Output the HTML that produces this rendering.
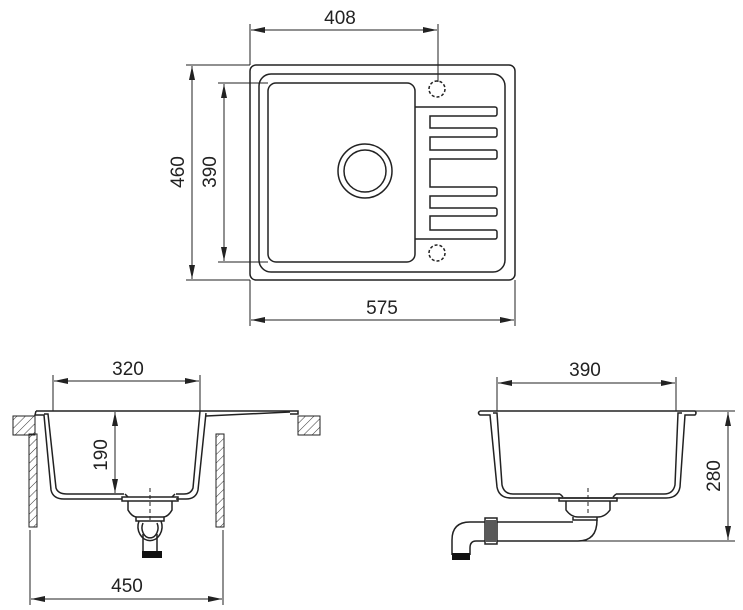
<!DOCTYPE html>
<html><head><meta charset="utf-8"><style>
html,body{margin:0;padding:0;background:#fff;}
svg{display:block;}
</style></head><body>
<svg width="743" height="610" viewBox="0 0 743 610" xmlns="http://www.w3.org/2000/svg" font-family="'Liberation Sans', Arial, sans-serif" font-size="19" fill="#222">
<defs>
<marker id="a" viewBox="0 0 14 6" refX="14" refY="3" markerWidth="14" markerHeight="6" orient="auto-start-reverse" markerUnits="userSpaceOnUse"><path d="M0,0 L14,3 L0,6 z" fill="#222"/></marker>
<pattern id="h" width="6" height="6" patternUnits="userSpaceOnUse" patternTransform="rotate(45)"><line x1="0" y1="0" x2="0" y2="6" stroke="#333" stroke-width="1"/></pattern>
</defs>
<g fill="none" stroke="#222" stroke-width="1.5">
<rect x="250" y="65" width="265" height="215" rx="6"/>
<rect x="259" y="74" width="246" height="198" rx="12"/>
<rect x="268" y="83" width="147" height="179" rx="8"/>
<circle cx="365" cy="171" r="27"/>
<circle cx="365" cy="171" r="21"/>
<circle cx="437" cy="89" r="8" stroke-dasharray="3,2"/>
<circle cx="437" cy="253" r="8" stroke-dasharray="3,2"/>
<path d="M415,107 H495 a2,2 0 0 1 2,2 V114 a2,2 0 0 1 -2,2 H430 V128 H495 a2,2 0 0 1 2,2 V135 a2,2 0 0 1 -2,2 H430 V150 H495 a2,2 0 0 1 2,2 V157 a2,2 0 0 1 -2,2 H430 V187 H495 a2,2 0 0 1 2,2 V194 a2,2 0 0 1 -2,2 H430 V208 H495 a2,2 0 0 1 2,2 V214 a2,2 0 0 1 -2,2 H430 V230 H495 a2,2 0 0 1 2,2 V237 a2,2 0 0 1 -2,2 H415"/>
</g>
<g stroke="#222" stroke-width="1" fill="none">
<line x1="250" y1="24" x2="250" y2="65"/><line x1="438" y1="24" x2="438" y2="82"/>
<line x1="251" y1="30" x2="437" y2="30" marker-start="url(#a)" marker-end="url(#a)"/>
<line x1="186" y1="65" x2="250" y2="65"/><line x1="186" y1="280" x2="250" y2="280"/>
<line x1="192" y1="66" x2="192" y2="279" marker-start="url(#a)" marker-end="url(#a)"/>
<line x1="218" y1="83" x2="268" y2="83"/><line x1="218" y1="262" x2="268" y2="262"/>
<line x1="224" y1="84" x2="224" y2="261" marker-start="url(#a)" marker-end="url(#a)"/>
<line x1="250" y1="280" x2="250" y2="326"/><line x1="515" y1="280" x2="515" y2="326"/>
<line x1="251" y1="320" x2="514" y2="320" marker-start="url(#a)" marker-end="url(#a)"/>
</g>
<text x="340" y="24" text-anchor="middle">408</text>
<text x="382" y="314" text-anchor="middle">575</text>
<text transform="translate(184,172) rotate(-90)" text-anchor="middle">460</text>
<text transform="translate(216,172) rotate(-90)" text-anchor="middle">390</text>

<g stroke="#222" stroke-width="1">
<rect x="13" y="416" width="22" height="19" fill="url(#h)"/>
<rect x="298" y="416" width="22" height="19" fill="url(#h)"/>
<rect x="29" y="434" width="8" height="93" fill="url(#h)"/>
<rect x="216" y="434" width="8" height="93" fill="url(#h)"/>
</g>
<g fill="none" stroke="#222" stroke-width="1.5">
<path d="M36,411 H298 V414 L290,414"/>
<path d="M36,411 L35,415 H44 L51,490 Q53,499 64,499 H122"/>
<path d="M44,414 H48 L56,488 Q58,494 67,494 H124"/>
<path d="M200,411 L193,488 Q191,494 184,494 H176"/>
<path d="M206,413 L198,490 Q196,499 186,499 H176"/>
<path d="M206,416 L290,412"/>
<path d="M122,497 H178 V501 H122 z"/>
<path d="M125,494 L128,497 M175,494 L172,497"/>
<path d="M128,501 V510 Q132,517 137,517 H163 Q168,517 172,510 V501"/>
<path d="M136,517 V521 H164 V517"/>
<path d="M139,521 A12,14 0 1 0 161,521"/>
<path d="M143,523 A8,10 0 1 0 157,523"/>
<path d="M143,534 V551 M157,534 V551"/>
</g>
<rect x="142" y="551" width="20" height="7" fill="#111"/>
<line x1="150" y1="488" x2="150" y2="520" stroke="#222" stroke-dasharray="4,3"/>
<g stroke="#222" stroke-width="1" fill="none">
<line x1="53" y1="375" x2="53" y2="411"/><line x1="200" y1="375" x2="200" y2="411"/>
<line x1="54" y1="381" x2="199" y2="381" marker-start="url(#a)" marker-end="url(#a)"/>
<line x1="115" y1="412" x2="115" y2="493" marker-start="url(#a)" marker-end="url(#a)"/>
<line x1="30" y1="530" x2="30" y2="605"/><line x1="223" y1="530" x2="223" y2="605"/>
<line x1="31" y1="599" x2="222" y2="599" marker-start="url(#a)" marker-end="url(#a)"/>
</g>
<text x="128" y="375" text-anchor="middle">320</text>
<text transform="translate(107,455) rotate(-90)" text-anchor="middle">190</text>
<text x="127" y="592" text-anchor="middle">450</text>

<g fill="none" stroke="#222" stroke-width="1.5">
<path d="M480,411 H695 Q697,413 695,415 H685 L680,487 Q678,498 666,498 H562"/>
<path d="M480,411 Q477,413 480,415 H490 L497,487 Q499,498 511,498 H562"/>
<path d="M493,413 H497 L502,485 Q504,494 513,494 H560 M682,413 H678 L675,485 Q673,494 664,494 H616"/>
<path d="M560,494 L563,497 M616,494 L613,497"/>
<path d="M559,498 H617 V501 H559 z"/>
<path d="M566,501 V510 Q571,517 578,517 H598 Q605,517 610,510 V501"/>
<path d="M573,517 V520 H597 V517"/>
<path d="M497,522 H573 M597,520 Q597,541 578,541 H497"/>
<path d="M485,522 H470 Q452,522 452,540 V555 M485,541 H476 Q470,541 470,548 V555"/>
<rect x="485" y="518" width="12" height="26"/>
<path d="M487,520 V542 M489,520 V542 M491,520 V542 M493,520 V542 M495,520 V542"/>
</g>
<rect x="452" y="553" width="18" height="7" fill="#111"/>
<line x1="588" y1="488" x2="588" y2="515" stroke="#222" stroke-dasharray="4,3"/>
<g stroke="#222" stroke-width="1" fill="none">
<line x1="497" y1="377" x2="497" y2="411"/><line x1="676" y1="377" x2="676" y2="411"/>
<line x1="498" y1="383" x2="675" y2="383" marker-start="url(#a)" marker-end="url(#a)"/>
<line x1="695" y1="411" x2="735" y2="411"/><line x1="497" y1="541" x2="735" y2="541"/>
<line x1="728" y1="412" x2="728" y2="540" marker-start="url(#a)" marker-end="url(#a)"/>
</g>
<text x="585" y="376" text-anchor="middle">390</text>
<text transform="translate(720,476) rotate(-90)" text-anchor="middle">280</text>
</svg>
</body></html>
